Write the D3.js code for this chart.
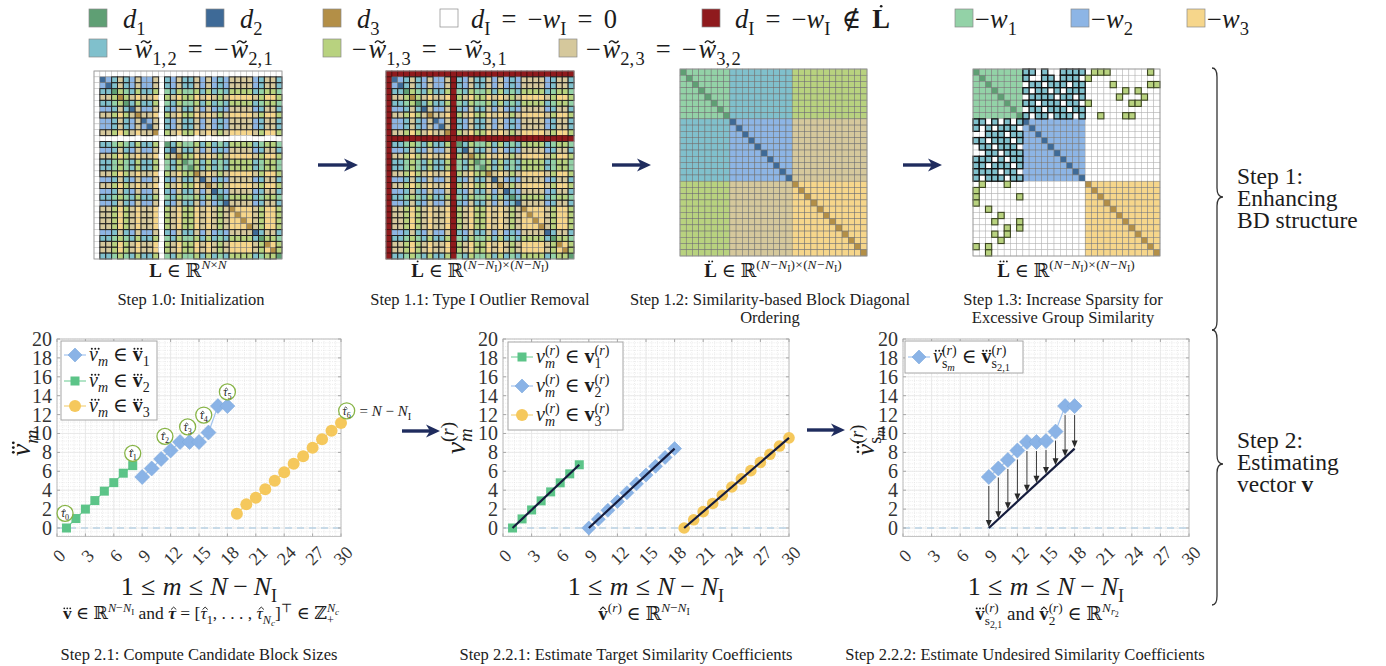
<!DOCTYPE html>
<html>
<head>
<meta charset="utf-8">
<script src="https://cdn.jsdelivr.net/npm/d3@7/dist/d3.min.js"></script>
<style>
  html, body { margin: 0; padding: 0; background: #fff; }
  svg { display: block; }
  svg text { font-family: "Liberation Serif", "Times New Roman", "DejaVu Serif", serif; white-space: pre; fill: #1c1c1c; }
</style>
</head>
<body>
<svg id="fig" width="1386" height="666" viewBox="0 0 1386 666"></svg>
<script>
// ---------------- block structure of the similarity matrix ----------------
const blockSizes = [8, 10, 12];
// group of every row/column of L before reordering (0 = Type I outlier)
const orderL = [0,2,2,1,3,1,2,3,2,2,3,0,1,2,3,1,1,3,2,3,2,1,2,3,3,3,3,2,1,3,3,1];
// cross-group entries kept after sparsification: rows of block 1 vs columns of block 2
const keep12 = [
  "1101001111",
  "1001101110",
  "0110111011",
  "1011010111",
  "0111101101",
  "1101110110",
  "0110111011",
  "1011011101"
];
// rows of block 1 vs columns of block 3
const keep13 = [
  "011100000010",
  "100000000000",
  "000010000011",
  "000000101000",
  "000001000100",
  "100000011000",
  "000000000000",
  "001000110000"
];

// ---------------- Step 2.1: sorted similarity vector ----------------
const mGreen  = [1, 2, 3, 4, 5, 6, 7, 8];
const mBlue   = [9, 10, 11, 12, 13, 14, 15, 16, 17, 18];
const mYellow = [19, 20, 21, 22, 23, 24, 25, 26, 27, 28, 29, 30];
const vSortedGreen  = [0, 1.0, 2.0, 2.9, 3.9, 4.8, 5.8, 6.6];
const vSortedBlue   = [5.4, 6.3, 7.3, 8.2, 9.1, 9.1, 9.1, 10.1, 12.9, 12.9];
const vSortedYellow = [1.5, 2.5, 3.2, 4.1, 5.0, 5.9, 6.8, 7.6, 8.5, 9.4, 10.3, 11.1];
// candidate block boundaries tau_0 .. tau_6 (label anchors)
const tauM = [0.85, 8, 11.4, 13.8, 15.5, 18, 30.6];
const tauV = [1.55, 7.9, 9.7, 10.7, 11.95, 14.4, 12.4];

// ---------------- Step 2.2.1: target similarity coefficients ----------------
const vTargetGreen  = [0, 0.96, 1.91, 2.87, 3.82, 4.78, 5.73, 6.69];
const vTargetBlue   = [0, 0.93, 1.87, 2.8, 3.73, 4.67, 5.6, 6.53, 7.47, 8.4];
const vTargetYellow = [0, 0.87, 1.73, 2.6, 3.47, 4.34, 5.2, 6.07, 6.94, 7.8, 8.67, 9.54];

// ---------------- Step 2.2.2: undesired similarity coefficients ----------------
const vUndesired = [5.4, 6.3, 7.2, 8.2, 9.1, 9.1, 9.2, 10.2, 12.9, 12.9];

const xTicks = [0, 3, 6, 9, 12, 15, 18, 21, 24, 27, 30];
const yTicks = [0, 2, 4, 6, 8, 10, 12, 14, 16, 18, 20];

// ---------------- palette ----------------
const C = {
  d: {1: '#5f9f74', 2: '#3e6a97', 3: '#b38f47'},
  w: {1: '#93d2a7', 2: '#8db5e5', 3: '#f6d68b'},
  x: {'1-2': '#80c0cc', '1-3': '#b8d27f', '2-3': '#d5c89c'},
  red: '#8f1a1d',
  navy: '#1f2c5e',
  mGreen: '#5cc488', mBlue: '#8ab3e6', mYellow: '#f5c85c',
  lGreen: '#7fd3a2', lBlue: '#a2c4ee', lYellow: '#f4d37c',
  tau: '#87b446',
  ink: '#1c1c1c'
};

const svg = d3.select('#fig');

// ---------------- tiny math typesetter ----------------
// tokens separated by "|"; "mods:text" where mods may hold
//   i (italic), b (bold), _ / ^ (script level), 1/2/3 (dots above), h (hat), t (tilde)
// "{" "&" "}" stack scripts above each other, "~x" adds x em of space
const LV = {
  '':    {dy: 0,     s: 1},
  '_':   {dy: 0.26,  s: 0.7},
  '__':  {dy: 0.42,  s: 0.52},
  '^':   {dy: -0.4,  s: 0.7},
  '^_':  {dy: -0.24, s: 0.52},
  '^__': {dy: -0.14, s: 0.42}
};
function math(parent, x, y, spec, size, anchor) {
  const outer = parent.append('g').attr('transform', `translate(${x},${y})`);
  const g = outer.append('g');
  let cx = 0, mark = 0, maxEnd = 0, inStack = false;
  spec.split('|').forEach(tok => {
    if (tok === '{') { mark = cx; maxEnd = cx; inStack = true; return; }
    if (tok === '&') { cx = mark; return; }
    if (tok === '}') { cx = maxEnd; inStack = false; return; }
    if (/^~[\d.]+$/.test(tok)) { cx += parseFloat(tok.slice(1)) * size; return; }
    let mods = '', text = tok;
    const mm = tok.match(/^([ib_^123ht]+):(.*)$/s);
    if (mm) { mods = mm[1]; text = mm[2]; }
    const lv = LV[mods.replace(/[ib123ht]/g, '')] || LV[''];
    const fs = size * lv.s, by = lv.dy * size;
    const t = g.append('text').attr('x', cx).attr('y', by).attr('font-size', fs).text(text);
    if (mods.includes('i')) t.attr('font-style', 'italic');
    if (mods.includes('b')) t.attr('font-weight', 'bold');
    const w = t.node().getComputedTextLength();
    const acc = (mods.match(/[123ht]/) || [null])[0];
    if (acc) {
      const tall = /[A-Z]/.test(text) ? 0.68 : 0.47;
      const skew = mods.includes('i') ? 0.09 * fs : 0;
      const ax = cx + w / 2 + skew, ay = by - tall * fs - 0.14 * fs;
      if (/[123]/.test(acc)) {
        const n = +acc, sp = 0.17 * fs, r = Math.max(0.8, 0.05 * fs);
        for (let k = 0; k < n; k++)
          g.append('circle').attr('cx', ax + (k - (n - 1) / 2) * sp).attr('cy', ay).attr('r', r).attr('fill', C.ink);
      } else if (acc === 'h') {
        g.append('path').attr('d', `M${ax - 0.15 * fs},${ay + 0.07 * fs} L${ax},${ay - 0.07 * fs} L${ax + 0.15 * fs},${ay + 0.07 * fs}`)
          .attr('fill', 'none').attr('stroke', C.ink).attr('stroke-width', Math.max(0.8, 0.055 * fs));
      } else {
        g.append('path').attr('d', `M${ax - 0.18 * fs},${ay + 0.04 * fs} Q${ax - 0.09 * fs},${ay - 0.09 * fs} ${ax},${ay} Q${ax + 0.09 * fs},${ay + 0.09 * fs} ${ax + 0.18 * fs},${ay - 0.04 * fs}`)
          .attr('fill', 'none').attr('stroke', C.ink).attr('stroke-width', Math.max(0.8, 0.055 * fs));
      }
    }
    cx += w;
    if (inStack) maxEnd = Math.max(maxEnd, cx);
  });
  const off = anchor === 'middle' ? -cx / 2 : anchor === 'end' ? -cx : 0;
  g.attr('transform', `translate(${off},0)`);
  return outer;
}
function plain(x, y, str, size, anchor) {
  return svg.append('text').attr('x', x).attr('y', y).attr('font-size', size)
    .attr('text-anchor', anchor || 'middle').text(str);
}
function bigArrow(x1, x2, y) {
  svg.append('line').attr('x1', x1).attr('x2', x2 - 8).attr('y1', y).attr('y2', y)
    .attr('stroke', C.navy).attr('stroke-width', 3.4);
  svg.append('path').attr('d', `M${x2},${y} L${x2 - 14},${y - 6.5} L${x2 - 10},${y} L${x2 - 14},${y + 6.5} Z`)
    .attr('fill', C.navy);
}

// ---------------- top legend ----------------
const eqSp = '|~.42|=|~.42|';
const legendRow1 = [
  {x: 89,   fill: C.d[1],  label: 'i:d|_:1', gap: 16},
  {x: 206,  fill: C.d[2],  label: 'i:d|_:2', gap: 16},
  {x: 323,  fill: C.d[3],  label: 'i:d|_:3', gap: 16},
  {x: 440,  fill: '#fff',  label: 'i:d|_:I' + eqSp + '−|i:w|_:I' + eqSp + '0', gap: 13},
  {x: 702,  fill: C.red,   label: 'i:d|_:I' + eqSp + '−|i:w|_:I|~.42|∉|~.42|b1:L', gap: 15},
  {x: 955,  fill: C.w[1],  label: '−|i:w|_:1', gap: 2},
  {x: 1071, fill: C.w[2],  label: '−|i:w|_:2', gap: 2},
  {x: 1187, fill: C.w[3],  label: '−|i:w|_:3', gap: 2}
];
const legendRow2 = [
  {x: 89,  fill: C.x['1-2'], label: '−|~.06|it:w|_:1,|~.05|_:2' + eqSp + '−|~.06|it:w|_:2,|~.05|_:1', gap: 11},
  {x: 323, fill: C.x['1-3'], label: '−|~.06|it:w|_:1,|~.05|_:3' + eqSp + '−|~.06|it:w|_:3,|~.05|_:1', gap: 11},
  {x: 559, fill: C.x['2-3'], label: '−|~.06|it:w|_:2,|~.05|_:3' + eqSp + '−|~.06|it:w|_:3,|~.05|_:2', gap: 9}
];
[[legendRow1, 9, 28], [legendRow2, 39, 58]].forEach(([row, ty, base]) => {
  row.forEach(it => {
    svg.append('rect').attr('x', it.x).attr('y', ty).attr('width', 18).attr('height', 18)
      .attr('fill', it.fill).attr('stroke', '#8a8a8a').attr('stroke-width', 0.7);
    math(svg, it.x + 18 + it.gap, base, it.label, 26.5, 'start');
  });
});

// ---------------- matrices ----------------
function drawMatrix(x0, y0, size, groups, opt) {
  const n = groups.length;
  const b = d3.scaleBand().domain(d3.range(n)).range([0, size]);
  const g = svg.append('g').attr('transform', `translate(${x0},${y0})`);
  const cells = [];
  for (let i = 0; i < n; i++) for (let j = 0; j < n; j++) {
    const gi = groups[i], gj = groups[j];
    let fill, stroke = opt.grid, sw = 0.5, top = false;
    if (gi === 0 || gj === 0) { fill = opt.outlier; stroke = opt.outlierStroke; sw = opt.outlierWidth || 0.5; }
    else if (i === j) fill = C.d[gi];
    else if (gi === gj) fill = C.w[gi];
    else {
      const key = Math.min(gi, gj) + '-' + Math.max(gi, gj);
      const keep = opt.keep ? opt.keep(i, j, key) : true;
      if (!keep) { fill = '#fff'; stroke = '#b4b4b4'; }
      else {
        fill = C.x[key];
        if (opt.heavy && opt.heavy[key]) { stroke = opt.heavy[key][0]; sw = opt.heavy[key][1]; top = true; }
      }
    }
    cells.push({i, j, fill, stroke, sw, top});
  }
  const draw = (data) => g.append('g').selectAll('rect').data(data).join('rect')
    .attr('x', d => b(d.j)).attr('y', d => b(d.i))
    .attr('width', b.bandwidth()).attr('height', b.bandwidth())
    .attr('fill', d => d.fill).attr('stroke', d => d.stroke).attr('stroke-width', d => d.sw);
  draw(cells.filter(d => !d.top));
  draw(cells.filter(d => d.top));
  g.append('rect').attr('width', size).attr('height', size).attr('fill', 'none')
    .attr('stroke', '#9a9a9a').attr('stroke-width', 0.8);
}
const sortedGroups = d3.merge(blockSizes.map((s, k) => d3.range(s).map(() => k + 1)));
const blockStart = d3.cumsum([0, ...blockSizes]);
function keepSparse(i, j, key) {
  const a = Math.min(i, j), c = Math.max(i, j);
  if (key === '1-2') return keep12[a - blockStart[0]][c - blockStart[1]] === '1';
  if (key === '1-3') return keep13[a - blockStart[0]][c - blockStart[2]] === '1';
  return false;
}
const heavyCross = {'1-2': ['#1e1e1e', 1.0], '1-3': ['#1e1e1e', 1.0], '2-3': ['#1e1e1e', 1.0]};
drawMatrix(94, 71, 188, orderL, {grid: '#707070', outlier: '#fff', outlierStroke: '#bdbdbd', heavy: heavyCross});
drawMatrix(386, 71, 188, orderL, {grid: '#707070', outlier: C.red, outlierStroke: '#4a0c0c', outlierWidth: 0.8, heavy: heavyCross});
drawMatrix(680, 69, 187, sortedGroups, {grid: '#6f6f6f', outlier: '#fff', outlierStroke: '#bbb'});
drawMatrix(973, 69, 187, sortedGroups, {grid: '#7a7a7a', outlier: '#fff', outlierStroke: '#bbb',
  keep: keepSparse, heavy: {'1-2': ['#111', 1.3], '1-3': ['#3b4520', 1.1]}});

// matrix captions
const dimSup = '|^:(|^i:N|~.03|^:−|~.03|^i:N|^_:I|^:)|~.02|^:×|~.02|^:(|^i:N|~.03|^:−|~.03|^i:N|^_:I|^:)';
math(svg, 188, 277, 'b:L| ∈ ℝ|^i:N|^:×|^i:N', 19, 'middle');
math(svg, 480, 277, 'b1:L| ∈ ℝ' + dimSup, 19, 'middle');
math(svg, 773, 277, 'b2:L| ∈ ℝ' + dimSup, 19, 'middle');
math(svg, 1066, 277, 'b3:L| ∈ ℝ' + dimSup, 19, 'middle');
plain(191, 305, 'Step 1.0: Initialization', 16.5);
plain(480, 305, 'Step 1.1: Type I Outlier Removal', 16.5);
plain(770, 305, 'Step 1.2: Similarity-based Block Diagonal', 16.5);
plain(770, 323, 'Ordering', 16.5);
plain(1063, 305, 'Step 1.3: Increase Sparsity for', 16.5);
plain(1063, 323, 'Excessive Group Similarity', 16.5);

bigArrow(318, 358, 165);
bigArrow(612, 651, 165);
bigArrow(903, 942, 165);

// ---------------- plots ----------------
function axesFrame(x0, x1) {
  const x = d3.scaleLinear().domain([0, 30]).range([x0, x1]);
  const y = d3.scaleLinear().domain([-0.9, 20]).range([536.5, 339]);
  const [yb, yt] = y.range();
  const g = svg.append('g');
  g.append('rect').attr('x', x0).attr('y', yt).attr('width', x1 - x0).attr('height', yb - yt).attr('fill', '#fff');
  const minorX = d3.range(0, 30.0001, 0.6), minorY = d3.range(-0.8, 20.0001, 0.4);
  g.append('g').selectAll('line').data(minorX).join('line')
    .attr('x1', d => x(d)).attr('x2', d => x(d)).attr('y1', yt).attr('y2', yb)
    .attr('stroke', '#e2e2e2').attr('stroke-width', 0.7).attr('stroke-dasharray', '1,1.2');
  g.append('g').selectAll('line').data(minorY).join('line')
    .attr('y1', d => y(d)).attr('y2', d => y(d)).attr('x1', x0).attr('x2', x1)
    .attr('stroke', '#e2e2e2').attr('stroke-width', 0.7).attr('stroke-dasharray', '1,1.2');
  g.append('g').selectAll('line').data(xTicks).join('line')
    .attr('x1', d => x(d)).attr('x2', d => x(d)).attr('y1', yt).attr('y2', yb)
    .attr('stroke', '#e6e6e6').attr('stroke-width', 0.8);
  g.append('g').selectAll('line').data(yTicks).join('line')
    .attr('y1', d => y(d)).attr('y2', d => y(d)).attr('x1', x0).attr('x2', x1)
    .attr('stroke', '#e6e6e6').attr('stroke-width', 0.8);
  g.append('line').attr('x1', x(0)).attr('x2', x(30)).attr('y1', y(0)).attr('y2', y(0))
    .attr('stroke', '#9fc3dd').attr('stroke-width', 1.1).attr('stroke-dasharray', '7,5');
  g.append('rect').attr('x', x0).attr('y', yt).attr('width', x1 - x0).attr('height', yb - yt)
    .attr('fill', 'none').attr('stroke', '#c4c4c4').attr('stroke-width', 1);
  xTicks.forEach(t => {
    g.append('line').attr('x1', x(t)).attr('x2', x(t)).attr('y1', yb).attr('y2', yb - 3).attr('stroke', '#a8a8a8');
    g.append('line').attr('x1', x(t)).attr('x2', x(t)).attr('y1', yt).attr('y2', yt + 3).attr('stroke', '#a8a8a8');
  });
  yTicks.forEach(t => {
    g.append('line').attr('x1', x0).attr('x2', x0 + 3).attr('y1', y(t)).attr('y2', y(t)).attr('stroke', '#a8a8a8');
    g.append('line').attr('x1', x1).attr('x2', x1 - 3).attr('y1', y(t)).attr('y2', y(t)).attr('stroke', '#a8a8a8');
  });
  g.append('g').selectAll('text').data(yTicks).join('text')
    .attr('x', x0 - 5).attr('y', d => y(d)).attr('dy', '0.35em')
    .attr('text-anchor', 'end').attr('font-size', 20).style('fill', '#333').text(d => d);
  g.append('g').selectAll('text').data(xTicks).join('text')
    .attr('transform', d => `translate(${x(d) + 2},${yb + 19}) rotate(-45)`)
    .attr('dy', '0.35em').attr('text-anchor', 'middle').attr('font-size', 18)
    .style('fill', '#333').text(d => d);
  return {x, y, g};
}
const diamondPath = r => `M0,${-r}L${r},0L0,${r}L${-r},0Z`;
function marker(g, xy, kind, color, size) {
  xy.forEach(([px, py]) => {
    if (kind === 'diamond') g.append('path').attr('d', diamondPath(size)).attr('transform', `translate(${px},${py})`)
      .attr('fill', color).attr('stroke', '#7ea9de').attr('stroke-width', 0.6);
    else if (kind === 'square') g.append('rect').attr('x', px - size).attr('y', py - size)
      .attr('width', 2 * size).attr('height', 2 * size).attr('fill', color);
    else g.append('circle').attr('cx', px).attr('cy', py).attr('r', size).attr('fill', color);
  });
}
function series(ax, ms, vs, kind, lineColor, markerColor, size) {
  const pts = ms.map((m, k) => [m, vs[k]]);
  if (lineColor) ax.g.append('path').attr('d', d3.line().x(d => ax.x(d[0])).y(d => ax.y(d[1]))(pts))
    .attr('fill', 'none').attr('stroke', lineColor).attr('stroke-width', 1.2);
  marker(ax.g, pts.map(d => [ax.x(d[0]), ax.y(d[1])]), kind, markerColor, size);
}
function legendBox(x0, y0, x1, y1, entries) {
  svg.append('rect').attr('x', x0).attr('y', y0).attr('width', x1 - x0).attr('height', y1 - y0)
    .attr('fill', '#fff').attr('stroke', '#a6a6a6').attr('stroke-width', 1);
  entries.forEach(e => {
    svg.append('line').attr('x1', x0 + 3).attr('x2', x0 + 25).attr('y1', e.y).attr('y2', e.y)
      .attr('stroke', e.line).attr('stroke-width', 1.2);
    marker(svg, [[x0 + 14, e.y]], e.kind, e.color, e.size);
    math(svg, x0 + 28, e.y + 6, e.label, 20, 'start');
  });
}
function yLabel(cx, cy, spec, size) {
  const g = svg.append('g').attr('transform', `translate(${cx},${cy}) rotate(-90)`);
  math(g, 0, size * 0.3, spec, size, 'middle');
}
const xLabelSpec = '1|~.28|≤|~.28|i:m|~.28|≤|~.28|i:N|~.22|−|~.22|i:N|_:I';
const supR = '|&|^:(|^i:r|^:)|}';

// ---- Step 2.1 ----
const ax1 = axesFrame(57, 341);
series(ax1, mGreen, vSortedGreen, 'square', C.lGreen, C.mGreen, 4.5);
series(ax1, mBlue, vSortedBlue, 'diamond', C.lBlue, C.mBlue, 7.5);
series(ax1, mYellow, vSortedYellow, 'circle', C.lYellow, C.mYellow, 6);
tauM.forEach((m, k) => {
  const cx = ax1.x(m), cy = ax1.y(tauV[k]);
  svg.append('circle').attr('cx', cx).attr('cy', cy).attr('r', 8)
    .attr('fill', '#fff').attr('stroke', C.tau).attr('stroke-width', 1.3);
  math(svg, cx, cy + 4, 'ih:τ|_:' + k, 11.5, 'middle');
});
math(svg, ax1.x(30.6) + 9, ax1.y(12.4) + 5, ' = |i:N| − |i:N|_:I', 15, 'start');
legendBox(61, 341, 157, 420, [
  {y: 355, kind: 'diamond', color: C.mBlue, line: C.lBlue, size: 7, label: 'i3:v|_i:m| ∈ |b3:v|_:1'},
  {y: 381, kind: 'square', color: C.mGreen, line: C.lGreen, size: 4.5, label: 'i3:v|_i:m| ∈ |b3:v|_:2'},
  {y: 406, kind: 'circle', color: C.mYellow, line: C.lYellow, size: 6, label: 'i3:v|_i:m| ∈ |b3:v|_:3'}
]);
yLabel(22, 443, 'i3:v|_i:m', 28);
math(svg, 199, 595, xLabelSpec, 26, 'middle');
math(svg, 201, 619, 'b3:v| ∈ ℝ|^i:N|^:−|^i:N|^_:I| and |bih:τ| = [|ih:τ|_:1|, . . . , |ih:τ|_i:N|__i:c|]|^:⊤| ∈ ℤ|{|_:+|&|^i:N|^_i:c|}', 17.5, 'middle');
plain(199, 660, 'Step 2.1: Compute Candidate Block Sizes', 16.5);

bigArrow(402, 440, 431);

// ---- Step 2.2.1 ----
const ax2 = axesFrame(503, 789);
[[mGreen, vTargetGreen, 'square', C.mGreen, 4.5], [mBlue, vTargetBlue, 'diamond', C.mBlue, 7],
 [mYellow, vTargetYellow, 'circle', C.mYellow, 5.8]].forEach(([ms, vs, kind, col, sz]) => {
  series(ax2, ms, vs, kind, null, col, sz);
  ax2.g.append('line')
    .attr('x1', ax2.x(ms[0])).attr('y1', ax2.y(vs[0]))
    .attr('x2', ax2.x(ms[ms.length - 1])).attr('y2', ax2.y(vs[vs.length - 1]))
    .attr('stroke', '#151c3d').attr('stroke-width', 2.2);
});
legendBox(508, 342, 623, 430, [
  {y: 357, kind: 'square', color: C.mGreen, line: C.lGreen, size: 4.5, label: 'i:v|{|_i:m' + supR + '| ∈ |b:v|{|_:1' + supR},
  {y: 386, kind: 'diamond', color: C.mBlue, line: C.lBlue, size: 7, label: 'i:v|{|_i:m' + supR + '| ∈ |b:v|{|_:2' + supR},
  {y: 415, kind: 'circle', color: C.mYellow, line: C.lYellow, size: 6, label: 'i:v|{|_i:m' + supR + '| ∈ |b:v|{|_:3' + supR}
]);
yLabel(457, 438, 'i:v|{|_i:m' + supR, 27);
math(svg, 646, 595, xLabelSpec, 26, 'middle');
math(svg, 644, 620, 'bh:v|^:(|^i:r|^:)| ∈ ℝ|^i:N|^:−|^i:N|^_:I', 19, 'middle');
plain(626, 660, 'Step 2.2.1: Estimate Target Similarity Coefficients', 16.5);

bigArrow(807, 845, 430);

// ---- Step 2.2.2 ----
const ax3 = axesFrame(903, 1189);
ax3.g.append('line')
  .attr('x1', ax3.x(mBlue[0])).attr('y1', ax3.y(vTargetBlue[0]))
  .attr('x2', ax3.x(mBlue[mBlue.length - 1])).attr('y2', ax3.y(vTargetBlue[vTargetBlue.length - 1]))
  .attr('stroke', '#151c3d').attr('stroke-width', 2.2);
mBlue.forEach((m, k) => {
  const px = ax3.x(m), ys = ax3.y(vUndesired[k]) + 9, ye = ax3.y(vTargetBlue[k]) - 1;
  ax3.g.append('line').attr('x1', px).attr('x2', px).attr('y1', ys).attr('y2', ye - 5)
    .attr('stroke', '#3a3a3a').attr('stroke-width', 1);
  ax3.g.append('path').attr('d', `M${px},${ye} L${px - 3},${ye - 7} L${px + 3},${ye - 7} Z`).attr('fill', '#2a2a2a');
});
series(ax3, mBlue, vUndesired, 'diamond', C.lBlue, C.mBlue, 7.5);
legendBox(905, 341, 1023, 373, [
  {y: 357, kind: 'diamond', color: C.mBlue, line: C.lBlue, size: 7,
   label: 'i3:v|{|_:s|__i:m' + supR + '| ∈ |b3:v|{|_:s|__:2,1' + supR}
]);
yLabel(866, 440, 'i3:v|{|_:s|__i:m' + supR, 26);
math(svg, 1046, 595, xLabelSpec, 26, 'middle');
math(svg, 1047, 620, 'b3:v|{|_:s|__:2,1' + supR + '| and |bh:v|{|_:2' + supR + '| ∈ ℝ|^i:N|^_i:r|^__:2', 19, 'middle');
plain(1025, 660, 'Step 2.2.2: Estimate Undesired Similarity Coefficients', 16.5);

// ---------------- braces and step titles ----------------
function brace(bx, y0, ym, y1) {
  const d = `M${bx - 5},${y0} Q${bx},${y0} ${bx},${y0 + 9} L${bx},${ym - 9} Q${bx},${ym} ${bx + 6},${ym}` +
            ` Q${bx},${ym} ${bx},${ym + 9} L${bx},${y1 - 9} Q${bx},${y1} ${bx - 5},${y1}`;
  svg.append('path').attr('d', d).attr('fill', 'none').attr('stroke', '#333').attr('stroke-width', 1.3);
}
brace(1217, 68, 197, 330);
brace(1217, 330, 464, 605);
plain(1237, 184, 'Step 1:', 23.5, 'start');
plain(1237, 206, 'Enhancing', 23.5, 'start');
plain(1237, 228, 'BD structure', 23.5, 'start');
plain(1237, 448, 'Step 2:', 23.5, 'start');
plain(1237, 470, 'Estimating', 23.5, 'start');
math(svg, 1237, 492, 'vector |b:v', 23.5, 'start');
</script>
</body>
</html>
